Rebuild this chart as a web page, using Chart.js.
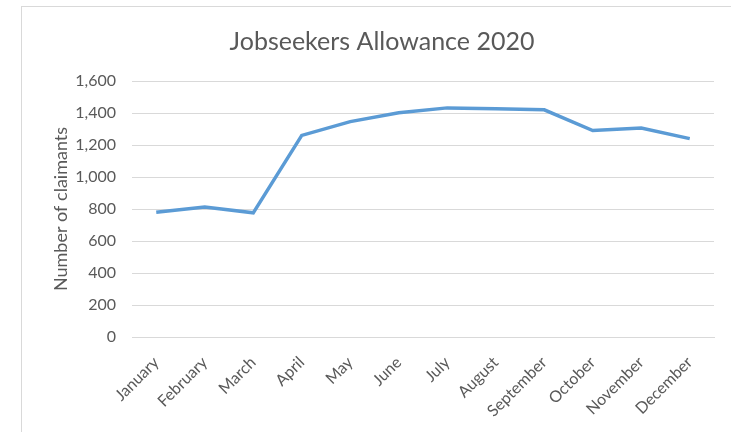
<!DOCTYPE html>
<html lang="en">
<head>
    <meta charset="UTF-8">
    <title>Jobseekers Allowance 2020</title>
    <script src="https://cdn.jsdelivr.net/npm/chart.js"></script>
    <style>
        html, body {
            margin: 0;
            padding: 0;
            background: #ffffff;
            overflow: hidden;
            width: 731px;
            height: 432px;
        }
        .chart-box {
            position: absolute;
            left: 21px;
            top: 6px;
            width: 712px;
            height: 440px;
            border: 1px solid #d9d9d9;
            background: #ffffff;
        }
        .chart-box canvas {
            display: block;
        }
    </style>
</head>
<body>
    <div class="chart-box">
        <canvas id="jsaChart" width="712" height="440"></canvas>
    </div>

    <script>
        // Monthly claimant counts
        const months = ['January', 'February', 'March', 'April', 'May', 'June',
                        'July', 'August', 'September', 'October', 'November', 'December'];
        const claimants = [780, 812, 776, 1260, 1346, 1402, 1432, 1426, 1420, 1290, 1306, 1240];
        const yTicks = [0, 200, 400, 600, 800, 1000, 1200, 1400, 1600];

        const textColor = '#595959';
        const gridColor = '#d9d9d9';
        const fontFamily = 'Lato, "Open Sans", sans-serif';

        new Chart(document.getElementById('jsaChart'), {
            type: 'line',
            data: {
                labels: months,
                datasets: [{
                    label: 'Jobseekers Allowance',
                    data: claimants,
                    borderColor: '#5b9bd5',
                    borderWidth: 3.5,
                    pointRadius: 0,
                    pointHoverRadius: 0,
                    tension: 0,
                    fill: false
                }]
            },
            options: {
                responsive: false,
                animation: false,
                layout: {
                    padding: { left: 28, right: 20, top: 0, bottom: 0 }
                },
                plugins: {
                    legend: { display: false },
                    tooltip: { enabled: false },
                    title: {
                        display: true,
                        text: 'Jobseekers Allowance 2020',
                        color: textColor,
                        font: { family: fontFamily, size: 25, weight: 'normal' },
                        padding: { top: 20, bottom: 24 }
                    }
                },
                scales: {
                    x: {
                        offset: true,
                        afterFit: (scale) => {
                            scale.height = 110;
                        },
                        grid: { display: false, drawTicks: false },
                        border: { display: true, color: gridColor, width: 1 },
                        ticks: {
                            color: textColor,
                            font: { family: fontFamily, size: 16 },
                            minRotation: 45,
                            maxRotation: 45,
                            padding: 16,
                            autoSkip: false
                        }
                    },
                    y: {
                        min: yTicks[0],
                        max: yTicks[yTicks.length - 1],
                        afterBuildTicks: (scale) => {
                            scale.ticks = yTicks.map(v => ({ value: v }));
                        },
                        afterFit: (scale) => {
                            scale.width = 82;
                        },
                        grid: { color: gridColor, lineWidth: 1, drawTicks: false },
                        border: { display: false },
                        ticks: {
                            color: textColor,
                            font: { family: fontFamily, size: 16 },
                            padding: 16,
                            callback: (v) => v.toLocaleString('en-US')
                        },
                        title: {
                            display: true,
                            text: 'Number of claimants',
                            color: textColor,
                            font: { family: fontFamily, size: 18 },
                            padding: 0
                        }
                    }
                }
            }
        });
    </script>
</body>
</html>
